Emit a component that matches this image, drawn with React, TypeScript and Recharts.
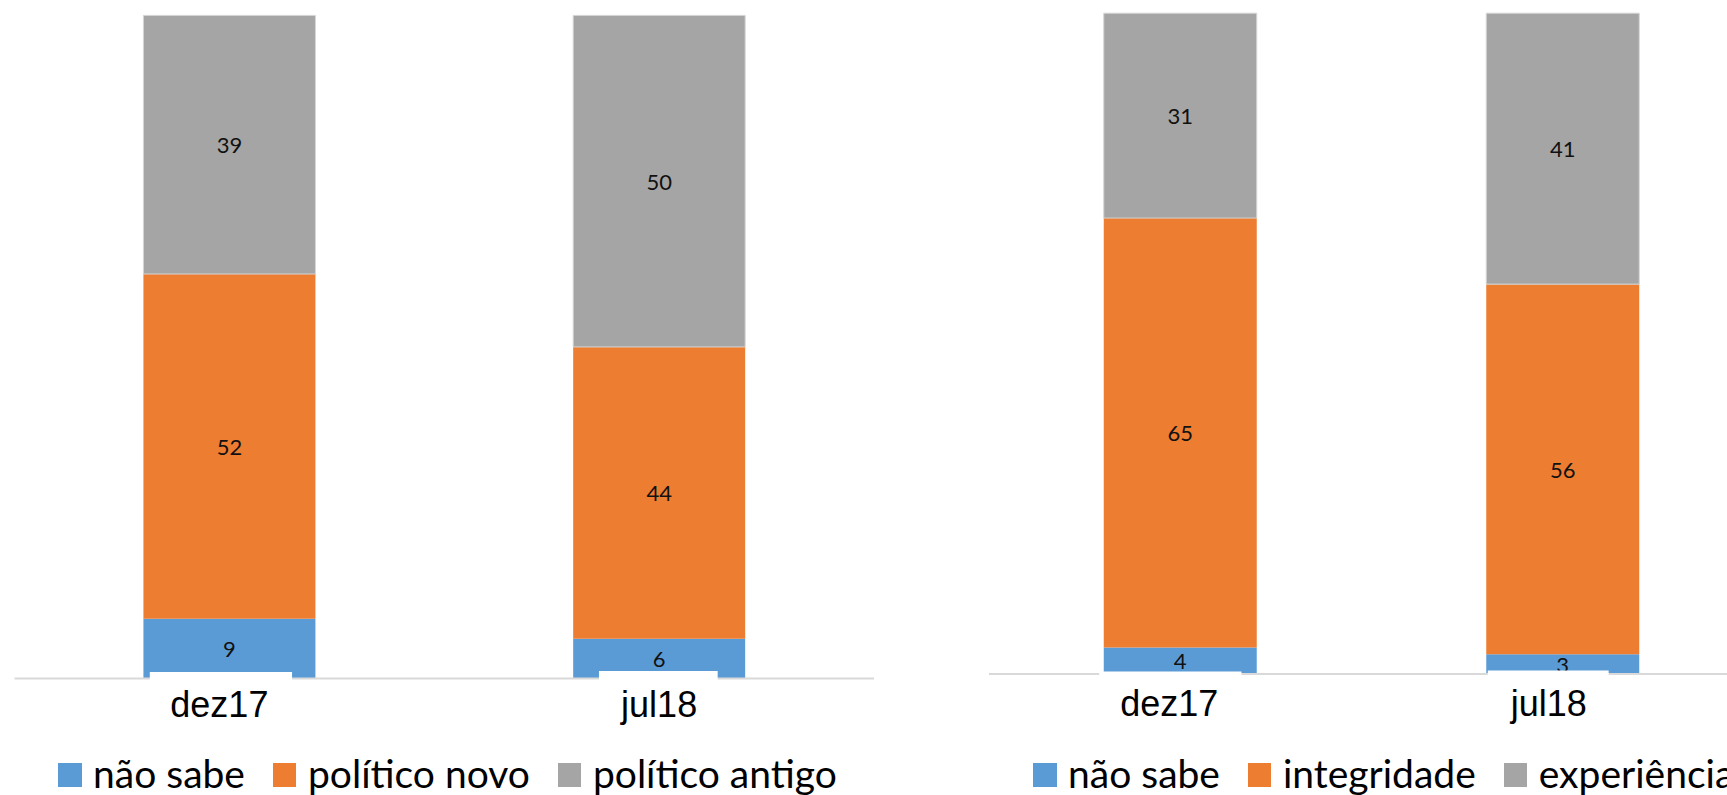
import React from 'react';
import { Bar, BarChart, LabelList, Legend, XAxis, YAxis } from 'recharts';

const periods = ['dez17', 'jul18'];

// painel esquerdo: novo x antigo
const naoSabeA = [9, 6];
const politicoNovo = [52, 44];
const politicoAntigo = [39, 50];

// painel direito: integridade x experiência
const naoSabeB = [4, 3];
const integridade = [65, 56];
const experiencia = [31, 41];

const seriesA = ['não sabe', 'político novo', 'político antigo'];
const seriesB = ['não sabe', 'integridade', 'experiência'];

const COLORS = ['#5B9BD5', '#ED7D31', '#A5A5A5'];

const dataA = periods.map((p, i) => ({
  period: p,
  s0: naoSabeA[i],
  s1: politicoNovo[i],
  s2: politicoAntigo[i],
}));

const dataB = periods.map((p, i) => ({
  period: p,
  s0: naoSabeB[i],
  s1: integridade[i],
  s2: experiencia[i],
}));

// faixas brancas que aparecem na base das barras azuis do original
const masksA = [
  { from: 0.037, to: 0.864, top: 6.5, below: 2.5 },
  { from: 0.15, to: 0.84, top: 7.5, below: 2.5 },
];
const masksB = [
  { from: -0.03, to: 0.9, top: 2.5, below: 3 },
  { from: 0.01, to: 0.8, top: 3.5, below: 3 },
];

// deslocamento horizontal dos rótulos de categoria no original
const tickShiftA = [-10, 0];
const tickShiftB = [-11, -14];

const axisFont = '"Liberation Sans", Arial, sans-serif';
const calibriLike = 'Lato, "Open Sans", sans-serif';

function SegLabel(props: any) {
  const vb = props.viewBox ?? props;
  const { x, y, width, height } = vb;
  return (
    <text
      x={x + width / 2}
      y={y + height / 2}
      textAnchor="middle"
      dominantBaseline="central"
      fontFamily={calibriLike}
      fontSize={22}
      fill="#111"
    >
      {props.value}
    </text>
  );
}

function maskedLabel(masks: { from: number; to: number; top: number; below: number }[]) {
  return (props: any) => {
    const vb = props.viewBox ?? props;
    const { x, y, width, height } = vb;
    const m = masks[props.index] ?? masks[0];
    const bottom = y + height;
    return (
      <g>
        <SegLabel {...props} />
        <rect
          x={x + width * m.from}
          y={bottom - m.top}
          width={width * (m.to - m.from)}
          height={m.top + m.below}
          fill="#fff"
        />
      </g>
    );
  };
}

function shiftedTick(shifts: number[]) {
  return (props: any) => {
    const { x, y, payload, index } = props;
    return (
      <text
        x={x + (shifts[index] ?? 0)}
        y={y}
        dy="0.71em"
        textAnchor="middle"
        fontFamily={axisFont}
        fontSize={36}
        fill="#000"
      >
        {payload.value}
      </text>
    );
  };
}

function LegendRow({ names }: { names: string[] }) {
  return (
    <div style={{ display: 'flex', alignItems: 'center', height: 40, whiteSpace: 'nowrap' }}>
      {names.map((n, i) => (
        <div key={n} style={{ display: 'flex', alignItems: 'center', marginRight: 28 }}>
          <span
            style={{
              display: 'inline-block',
              width: 23.5,
              height: 24,
              background: COLORS[i],
              marginRight: 11.5,
              marginTop: 4,
            }}
          />
          <span
            style={{
              fontFamily: calibriLike,
              fontSize: 39,
              color: '#000',
              lineHeight: '40px',
            }}
          >
            {n}
          </span>
        </div>
      ))}
    </div>
  );
}

interface PanelProps {
  data: any[];
  names: string[];
  masks: { from: number; to: number; top: number; below: number }[];
  shifts: number[];
  width: number;
  margin: { top: number; right: number; left: number; bottom: number };
  xAxisHeight: number;
  tickMargin: number;
  legendLeft: number;
}

function Panel({ data, names, masks, shifts, width, margin, xAxisHeight, tickMargin, legendLeft }: PanelProps) {
  return (
    <BarChart width={width} height={795} data={data} margin={margin} barCategoryGap="30%">
      <XAxis
        dataKey="period"
        height={xAxisHeight}
        axisLine={{ stroke: '#d9d9d9', strokeWidth: 2 }}
        tickLine={false}
        tickSize={6}
        tickMargin={tickMargin}
        tick={shiftedTick(shifts)}
      />
      <YAxis hide domain={[0, 100]} />
      <Legend
        verticalAlign="bottom"
        wrapperStyle={{ left: legendLeft, width: width - legendLeft }}
        content={() => <LegendRow names={names} />}
      />
      <Bar dataKey="s0" name={names[0]} stackId="a" fill={COLORS[0]} isAnimationActive={false}>
        <LabelList dataKey="s0" position="center" content={maskedLabel(masks)} />
      </Bar>
      <Bar dataKey="s1" name={names[1]} stackId="a" fill={COLORS[1]} isAnimationActive={false}>
        <LabelList dataKey="s1" position="center" content={SegLabel} />
      </Bar>
      <Bar
        dataKey="s2"
        name={names[2]}
        stackId="a"
        fill={COLORS[2]}
        stroke="#d6d6d6"
        strokeWidth={1}
        isAnimationActive={false}
      >
        <LabelList dataKey="s2" position="center" content={SegLabel} />
      </Bar>
    </BarChart>
  );
}

export default function App() {
  return (
    <div
      style={{
        position: 'absolute',
        left: 0,
        top: 0,
        width: 1727,
        height: 795,
        overflow: 'hidden',
        background: '#fff',
      }}
    >
      <div style={{ position: 'absolute', left: 0, top: 0 }}>
        <Panel
          data={dataA}
          names={seriesA}
          masks={masksA}
          shifts={tickShiftA}
          width={900}
          margin={{ top: 15.4, right: 26, left: 14.5, bottom: 2 }}
          xAxisHeight={74.5}
          tickMargin={7}
          legendLeft={58}
        />
      </div>
      <div style={{ position: 'absolute', left: 960, top: 0 }}>
        <Panel
          data={dataB}
          names={seriesB}
          masks={masksB}
          shifts={tickShiftB}
          width={820}
          margin={{ top: 13.2, right: 26, left: 29, bottom: 2 }}
          xAxisHeight={79}
          tickMargin={10}
          legendLeft={73}
        />
      </div>
    </div>
  );
}
